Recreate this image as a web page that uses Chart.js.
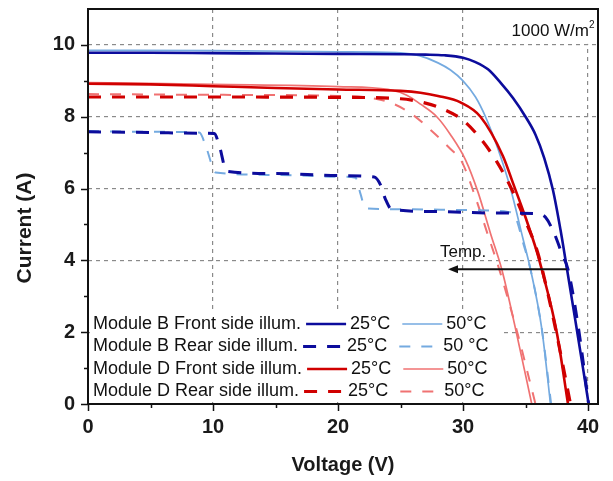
<!DOCTYPE html>
<html>
<head>
<meta charset="utf-8">
<script src="https://cdn.jsdelivr.net/npm/chart.js@4.4.0/dist/chart.umd.min.js"></script>
<style>
  html, body { margin: 0; padding: 0; background: #fff; }
  canvas { display: block; }
</style>
</head>
<body>
<canvas id="iv" width="613" height="481"></canvas>
<script>
// I-V curves at 1000 W/m2 (V in volts, I in amps)
const bFront25V = [0, 5, 10, 15, 20, 25, 27, 28.5, 30, 31, 32, 33, 34, 35, 35.8, 36.5, 37.2, 37.8, 38.3, 39.0, 39.6, 40.05];
const bFront25I = [9.78, 9.78, 9.77, 9.76, 9.75, 9.74, 9.73, 9.71, 9.64, 9.52, 9.32, 8.95, 8.52, 8.0, 7.5, 6.85, 5.95, 4.85, 3.8, 2.3, 1.0, 0];

const bFront50V = [0, 10, 20, 25, 26.5, 28, 29, 30, 31, 31.8, 32.8, 33.8, 34.8, 35.4, 36.3, 37.0];
const bFront50I = [9.85, 9.84, 9.81, 9.78, 9.7, 9.5, 9.3, 9.0, 8.55, 8.0, 7.1, 6.0, 4.6, 3.75, 2.1, 0];

const bRear25V = [0, 5, 9, 10.1, 10.5, 11.1, 15, 20, 22.9, 23.4, 23.8, 24.3, 28, 32, 36, 36.6, 37.3, 37.9, 38.4, 39.2, 40.05];
const bRear25I = [7.58, 7.56, 7.54, 7.53, 7.2, 6.48, 6.42, 6.36, 6.32, 6.1, 5.7, 5.42, 5.36, 5.32, 5.3, 5.2, 4.75, 4.2, 3.75, 2.2, 0];

const bRear50V = [0, 5, 8.9, 9.5, 10.2, 15, 20, 21.4, 21.8, 22.2, 26, 30, 33.6, 34.2, 34.8, 35.4, 36.3, 37.05];
const bRear50I = [7.6, 7.58, 7.56, 7.1, 6.45, 6.38, 6.33, 6.3, 5.85, 5.45, 5.42, 5.4, 5.35, 5.2, 4.5, 3.75, 2.1, 0];

const dFront25V = [0, 5, 10, 15, 20, 25, 26.6, 28, 29.8, 31.4, 33.2, 34.0, 35.0, 35.9, 36.3, 37.5, 38.4];
const dFront25I = [8.92, 8.9, 8.85, 8.8, 8.76, 8.72, 8.67, 8.58, 8.4, 8.0, 6.9, 6.15, 5.2, 4.25, 3.75, 2.0, 0];

const dFront50V = [0, 10, 20, 24, 25.5, 26.6, 27.9, 29, 30.2, 31.2, 32.2, 33.1, 34.2, 35.5];
const dFront50I = [8.95, 8.9, 8.84, 8.76, 8.6, 8.35, 8.0, 7.5, 6.8, 5.9, 4.75, 3.75, 2.1, 0];

const dRear25V = [0, 10, 20, 25, 27, 28.5, 30, 31.5, 32.7, 33.8, 35, 35.9, 36.3, 37.4, 38.6];
const dRear25I = [8.55, 8.55, 8.54, 8.5, 8.38, 8.2, 7.9, 7.35, 6.75, 6.05, 5.1, 4.3, 3.8, 2.1, 0];

const dRear50V = [0, 10, 20, 23, 24.5, 26, 27.5, 29, 29.9, 31, 32, 32.9, 34.3, 35.8];
const dRear50I = [8.63, 8.61, 8.58, 8.5, 8.35, 8.05, 7.6, 7.1, 6.75, 5.75, 4.7, 3.75, 2.05, 0];

const legendRows = ['Module B Front side illum.', 'Module B Rear side illum.', 'Module D Front side illum.', 'Module D Rear side illum.'];
const legendTemps = [['25°C', '50°C'], ['25°C', '50 °C'], ['25°C', '50°C'], ['25°C', '50°C']];
const xTicks = [0, 10, 20, 30, 40];
const yTicks = [0, 2, 4, 6, 8, 10];

// arrow showing the temperature shift
const arrowFromV = 38.3, arrowToV = 28.8, arrowI = 3.75;

const DARK_BLUE = '#0c0c9c', LIGHT_BLUE = '#74aae0', DARK_RED = '#d00000', LIGHT_RED = '#f07272';
const FONT = '"Liberation Sans", Arial, sans-serif';

function pts(vs, is) {
    return vs.map((v, i) => ({ x: v, y: is[i] }));
}

function series(label, vs, is, color, width, dash) {
    return {
        label: label,
        data: pts(vs, is),
        borderColor: color,
        borderWidth: width,
        borderDash: dash,
        pointRadius: 0,
        fill: false,
        cubicInterpolationMode: 'monotone'
    };
}

const datasets = [
    series('B front 25', bFront25V, bFront25I, DARK_BLUE, 2.6, []),
    series('B rear 25', bRear25V, bRear25I, DARK_BLUE, 3, [13, 11]),
    series('D front 25', dFront25V, dFront25I, DARK_RED, 2.6, []),
    series('D rear 25', dRear25V, dRear25I, DARK_RED, 3.2, [13, 11]),
    series('B front 50', bFront50V, bFront50I, LIGHT_BLUE, 1.7, []),
    series('B rear 50', bRear50V, bRear50I, LIGHT_BLUE, 2, [11, 11]),
    series('D front 50', dFront50V, dFront50I, LIGHT_RED, 1.7, []),
    series('D rear 50', dRear50V, dRear50I, LIGHT_RED, 2, [11, 11])
];

// legend samples: which dataset each cell uses
const legendSets = [[0, 4], [1, 5], [2, 6], [3, 7]];

const overlay = {
    id: 'overlay',
    beforeDatasetsDraw(chart) {
        const { ctx, chartArea: a, scales: { y } } = chart;
        ctx.save();
        ctx.fillStyle = '#fff';
        // white boxes behind legend and irradiance label
        ctx.fillRect(a.left + 2, 312, 412, a.bottom - 314);
        ctx.fillRect(470, a.top + 1, a.right - 471, y.getPixelForValue(10) - a.top - 2);
        ctx.restore();
    },
    afterDatasetsDraw(chart) {
        const { ctx, chartArea: a, scales: { x, y } } = chart;
        ctx.save();

        // frame
        ctx.strokeStyle = '#111';
        ctx.lineWidth = 2;
        ctx.strokeRect(a.left, a.top, a.right - a.left, a.bottom - a.top);

        // tick marks
        ctx.lineWidth = 1.5;
        ctx.beginPath();
        for (let v = 0; v <= 40; v += 5) {
            const px = Math.round(x.getPixelForValue(v)) + 0.5;
            ctx.moveTo(px, a.bottom);
            ctx.lineTo(px, a.bottom + (v % 10 === 0 ? 7 : 4));
        }
        for (let i = 0; i <= 10; i += 1) {
            const py = Math.round(y.getPixelForValue(i)) + 0.5;
            ctx.moveTo(a.left, py);
            ctx.lineTo(a.left - (i % 2 === 0 ? 7 : 4), py);
        }
        ctx.stroke();

        // axis titles
        ctx.fillStyle = '#1a1a1a';
        ctx.textAlign = 'center';
        ctx.textBaseline = 'middle';
        ctx.font = 'bold 20px ' + FONT;
        ctx.fillText('Voltage (V)', (a.left + a.right) / 2, 465);
        ctx.save();
        ctx.translate(25, 228);
        ctx.rotate(-Math.PI / 2);
        ctx.font = 'bold 21px ' + FONT;
        ctx.fillText('Current (A)', 0, 0);
        ctx.restore();

        // irradiance label
        ctx.fillStyle = '#111';
        ctx.textBaseline = 'alphabetic';
        ctx.font = '17px ' + FONT;
        ctx.textAlign = 'right';
        ctx.fillText('1000 W/m', a.right - 9, 36);
        ctx.font = '10px ' + FONT;
        ctx.textAlign = 'left';
        ctx.fillText('2', a.right - 9, 28);

        // temperature arrow
        const ay = y.getPixelForValue(arrowI);
        const ax1 = x.getPixelForValue(arrowFromV);
        const ax2 = x.getPixelForValue(arrowToV);
        ctx.strokeStyle = '#111';
        ctx.lineWidth = 2;
        ctx.beginPath();
        ctx.moveTo(ax1, ay);
        ctx.lineTo(ax2 + 8, ay);
        ctx.stroke();
        ctx.beginPath();
        ctx.moveTo(ax2, ay);
        ctx.lineTo(ax2 + 10, ay - 4);
        ctx.lineTo(ax2 + 10, ay + 4);
        ctx.closePath();
        ctx.fill();
        ctx.font = '17px ' + FONT;
        ctx.textAlign = 'left';
        ctx.textBaseline = 'middle';
        ctx.fillText('Temp.', ax2 - 8, ay - 17);

        // legend table
        ctx.font = '18px ' + FONT;
        legendRows.forEach((row, r) => {
            const ry = 324 + r * 22.5;
            ctx.fillStyle = '#111';
            ctx.textAlign = 'left';
            ctx.fillText(row, 93, ry);
            let cx = 93 + ctx.measureText(row).width + 5;
            legendSets[r].forEach((di, k) => {
                const ds = chart.data.datasets[di];
                ctx.save();
                ctx.strokeStyle = ds.borderColor;
                ctx.lineWidth = ds.borderWidth;
                ctx.setLineDash(ds.borderDash);
                ctx.beginPath();
                ctx.moveTo(cx, ry);
                ctx.lineTo(cx + 40, ry);
                ctx.stroke();
                ctx.restore();
                cx += 44;
                ctx.fillText(legendTemps[r][k], cx, ry);
                cx += ctx.measureText(legendTemps[r][k]).width + 12;
            });
        });
        ctx.restore();
    }
};

new Chart(document.getElementById('iv'), {
    type: 'line',
    data: { datasets: datasets },
    plugins: [overlay],
    options: {
        responsive: false,
        animation: false,
        layout: { padding: { top: 9, right: 15, left: 0, bottom: 0 } },
        plugins: { legend: { display: false }, tooltip: { enabled: false } },
        scales: {
            x: {
                type: 'linear',
                min: 0,
                max: 40.8,
                afterFit: s => { s.height = 77; s.paddingLeft = 0; s.paddingRight = 0; },
                ticks: {
                    stepSize: 5,
                    includeBounds: false,
                    maxRotation: 0,
                    autoSkip: false,
                    padding: 11,
                    color: '#1a1a1a',
                    font: { family: FONT, size: 20, weight: 'bold' },
                    callback: v => xTicks.includes(v) ? String(v) : ''
                },
                grid: {
                    drawTicks: false,
                    lineWidth: 1.2,
                    color: c => (c.tick && c.tick.value % 10 === 0 && c.tick.value > 0) ? '#8a8a8a' : 'rgba(0,0,0,0)'
                },
                border: { display: false, dash: [4, 4] }
            },
            y: {
                min: 0,
                max: 11,
                afterFit: s => { s.width = 88; s.paddingTop = 0; s.paddingBottom = 0; },
                ticks: {
                    stepSize: 1,
                    autoSkip: false,
                    padding: 13,
                    color: '#1a1a1a',
                    font: { family: FONT, size: 20, weight: 'bold' },
                    callback: v => yTicks.includes(v) ? String(v) : ''
                },
                grid: {
                    drawTicks: false,
                    lineWidth: 1.2,
                    color: c => (c.tick && c.tick.value % 2 === 0 && c.tick.value > 0 && c.tick.value <= 10) ? '#8a8a8a' : 'rgba(0,0,0,0)'
                },
                border: { display: false, dash: [4, 4] }
            }
        }
    }
});
</script>
</body>
</html>
